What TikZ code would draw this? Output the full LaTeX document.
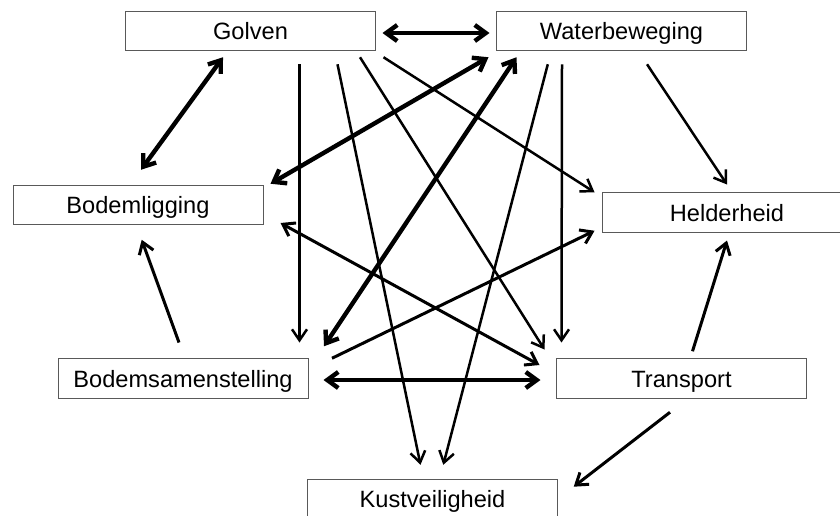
\documentclass[tikz,border=0pt]{standalone}
\usepackage{fontspec}
\setmainfont{Liberation Sans}
\usetikzlibrary{arrows.meta,calc}
\begin{document}
\begin{tikzpicture}[x=1pt,y=-1pt,
  box/.style={draw=black!65, line width=1pt, fill=white, minimum width=250pt, minimum height=39.5pt,
    inner sep=0pt, text height=17.5pt, text depth=0pt, font=\fontsize{23.6pt}{28pt}\selectfont},
  tip/.style={Straight Barb[length=11pt,width=15pt]},
  thinarr/.style={line width=2.5pt, line join=miter, -{Straight Barb[length=11pt,width=15pt]}},
  medarr/.style={line width=3pt, line join=miter, -{Straight Barb[length=11pt,width=15pt]}},
  medboth/.style={line width=3pt, line join=miter, {Straight Barb[length=11pt,width=15pt]}-{Straight Barb[length=11pt,width=15pt]}},
  thickboth/.style={line width=4.4pt, line join=miter, {Straight Barb[length=11pt,width=16pt]}-{Straight Barb[length=11pt,width=16pt]}}
]
\useasboundingbox (0,0) rectangle (840,515);
\fill[white] (0,0) rectangle (840,515);

\node[box] (G)  at (250.5,31)  {Golven};
\node[box] (W)  at (621.5,31)  {Waterbeweging};
\node[box] (BL) at (138,205)   {Bodemligging};
\node[box] (H)  at (727,212.5) {Helderheid};
\node[box] (BS) at (183,378.5) {Bodemsamenstelling};
\node[box] (T)  at (681.5,378.5) {Transport};
\node[box] (K)  at (432.5,499) {Kustveiligheid};

% thick double arrows
\draw[thickboth] ($(G.east)+(6.5,2)$) -- ($(W.west)+(-6.5,2)$);
\draw[thickboth] ($(G.south)+(-27.5,6)$) -- ($(BL.north)+(3,-15)$);
\draw[thickboth] ($(W.south west)+(-7.5,6)$) -- ($(BL.north east)+(7,-1)$);
\draw[thickboth] ($(W.south west)+(20.5,6)$) -- ($(BS.north east)+(15.5,-12)$);
\draw[thickboth] ($(BS.east)+(15,1.5)$) -- ($(T.west)+(-15.5,1.5)$);

% thin arrows from Golven
\draw[thinarr] ($(G.south)+(49,13)$) -- ($(BS.north)+(116.5,-15.75)$);
\draw[thinarr] ($(G.south)+(87,13)$) -- ($(K.north)+(-12,-14)$);
\draw[thinarr] ($(G.south)+(109.5,6)$) -- ($(T.north west)+(-11.5,-8.75)$);
\draw[thinarr] ($(G.south east)+(7.5,6)$) -- ($(H.north west)+(-7,0)$);

% thin arrows from Waterbeweging
\draw[thinarr] ($(W.south)+(-73.7,13)$) -- ($(K.north)+(10.8,-14)$);
\draw[thinarr] ($(W.south)+(-59.5,13)$) -- ($(T.north west)+(5.5,-15.75)$);
\draw[thinarr] ($(W.south)+(25.5,13)$) -- ($(H.north)+(0,-7.75)$);

% medium arrows
\draw[medboth] ($(BL.east)+(17,18)$) -- ($(T.west)+(-16.5,-13.5)$);
\draw[medarr] ($(BS.north east)+(23.5,0)$) -- ($(H.south west)+(-7,-2)$);
\draw[medarr] ($(BS.north)+(-4,-15.75)$) -- ($(BL.south)+(3.7,14.5)$);
\draw[medarr] ($(T.north)+(11,-7)$) -- ($(H.south)+(0,7.75)$);
\draw[medarr] ($(T.south)+(-11.5,13.5)$) -- ($(K.east)+(15.7,-12.3)$);
\end{tikzpicture}
\end{document}
